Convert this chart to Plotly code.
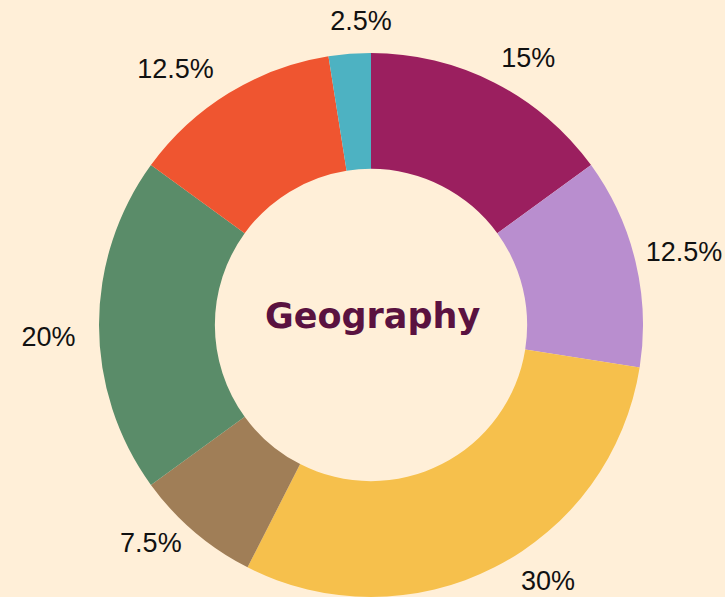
import plotly.graph_objects as go

labels = ["A", "B", "C", "D", "E", "F", "G"]
values = [15, 12.5, 30, 7.5, 20, 12.5, 2.5]
colors = ["#9B1F5F", "#B98ECF", "#F6C04C", "#A07E57", "#5A8C69", "#EF5530", "#4DB2C2"]
text = ["15%", "12.5%", "30%", "7.5%", "20%", "12.5%", "2.5%"]
center_title = "Geography"

W, H = 725, 597
NB = "\u00a0"


def dom(cx, cy, r):
    """square pie domain (px centre / radius -> paper units)"""
    return dict(x=[(cx - r) / W, (cx + r) / W], y=[1 - (cy + r) / H, 1 - (cy - r) / H])


def label_subset(idx, pad_left=None, pad_right=None):
    pad_left = pad_left or {}
    pad_right = pad_right or {}
    out = []
    for i, t in enumerate(text):
        if i in idx:
            out.append(NB * pad_left.get(i, 0) + t + NB * pad_right.get(i, 0))
        else:
            out.append("")
    return out


fig = go.Figure()
# the donut ring
fig.add_trace(go.Pie(
    labels=labels, values=values, textinfo="none", hole=0.574,
    sort=False, direction="clockwise", rotation=0,
    marker=dict(colors=colors, line=dict(width=0)),
    domain=dom(371, 325, 272), showlegend=False,
))

# invisible companion pies that only carry the outside percentage labels
label_groups = [
    (dom(367, 318, 279), label_subset([0, 1, 5])),
    (dom(358, 337, 260), label_subset([2, 3, 4], pad_left={2: 5}, pad_right={4: 2})),
    (dom(411, 185, 150), label_subset([6])),
]
for d, t in label_groups:
    fig.add_trace(go.Pie(
        labels=labels, values=values, text=t, textinfo="text", textposition="outside",
        hole=0.574, sort=False, direction="clockwise", rotation=0,
        marker=dict(colors=["rgba(0,0,0,0)"] * len(values), line=dict(width=0)),
        outsidetextfont=dict(family="Liberation Sans, Arial", size=27, color="#111111"),
        domain=d, showlegend=False, hoverinfo="skip",
    ))

fig.add_annotation(
    text="<b>" + center_title + "</b>", x=372 / W, y=1 - 316 / H, xref="paper", yref="paper",
    showarrow=False, font=dict(family="DejaVu Sans", size=35, color="#5A1240"),
)
fig.update_layout(
    width=W, height=H,
    paper_bgcolor="#FFEFD8", plot_bgcolor="#FFEFD8",
    margin=dict(l=0, r=0, t=0, b=0, autoexpand=False),
)
fig.write_html("out.html")
